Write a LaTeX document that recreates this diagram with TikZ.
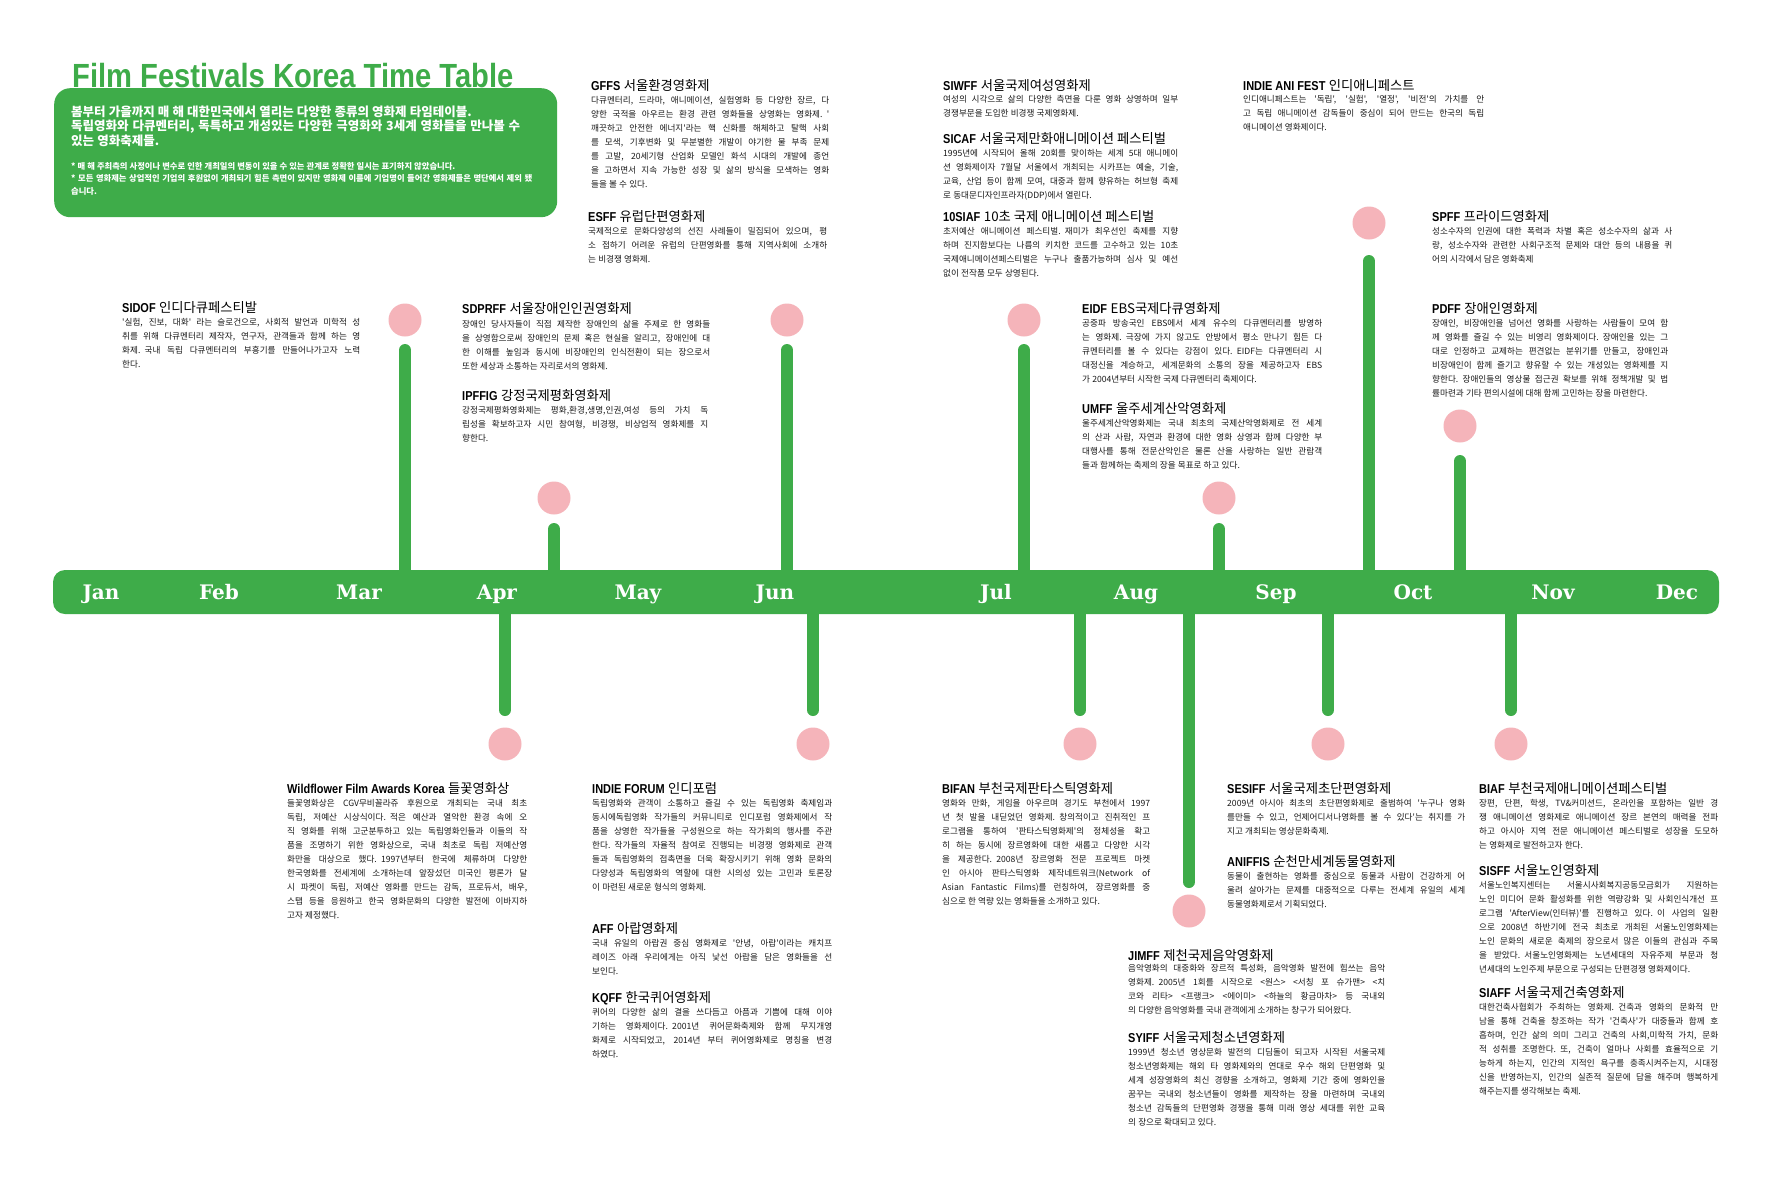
\documentclass[tikz,border=0pt]{standalone}
\usepackage{fontspec}
\newfontfamily\kr{Noto Sans CJK KR}
\newfontfamily\hdfont[FakeStretch=0.85]{Liberation Sans}
\newfontfamily\ttlfont[FakeStretch=0.87]{Liberation Sans}
\newfontfamily\mofont{DejaVu Serif}
\definecolor{fgreen}{RGB}{62,172,73}
\definecolor{fpink}{RGB}{245,180,186}
\definecolor{ftext}{RGB}{25,25,25}
\setlength{\parindent}{0pt}
\setlength{\parskip}{0pt}
\newcommand\jln[1]{\noindent\hbox to\hsize{\spaceskip=0.25em plus 1fil minus 0.05em\relax#1}\par}
\newcommand\lln[1]{\noindent\hbox to\hsize{\spaceskip=0.25em\relax#1\hfil}\par}
\newcommand\fhd[2]{{\hdfont\bfseries\fontsize{12.9}{14}\selectfont#1}\hspace{3.5pt}{\kr\fontsize{13.3}{14}\selectfont#2}}
\tikzset{
  headlbl/.style={anchor=base west, inner sep=0pt, text=black},
  bodytxt/.style={anchor=base west, inner sep=0pt, text=ftext, font=\kr\fontsize{8.6}{14}\selectfont},
  pinkdot/.style={circle, fill=fpink, minimum size=33pt, inner sep=0pt},
  stemline/.style={draw=fgreen, line width=12pt, line cap=round},
  monthlbl/.style={anchor=base, inner sep=0pt, text=white, font=\mofont\bfseries\fontsize{20}{20}\selectfont},
}
\begin{document}
\begin{tikzpicture}[x=1pt,y=-1pt]
\fill[white] (0,0) rectangle (1772,1181);
\useasboundingbox (0,0) rectangle (1772,1181);

% intro
\node[fill=fgreen, rounded corners=16pt, minimum width=503pt, minimum height=129pt, anchor=north west, inner sep=0pt] (intro) at (54,88) {};
\node[anchor=base west, inner sep=0pt, font=\ttlfont\bfseries\fontsize{33.5}{36}\selectfont, text=fgreen] (title) at (72,87) {Film Festivals Korea Time Table};
\node[anchor=base west, inner sep=0pt, text width=449pt, text=white, font=\kr\bfseries\fontsize{12.5}{14.5}\selectfont] (introtxt) at (71,116) {%
\lln{봄부터 가을까지 매 해 대한민국에서 열리는 다양한 종류의 영화제 타임테이블.}%
\jln{독립영화와 다큐멘터리, 독특하고 개성있는 다양한 극영화와 3세계 영화들을 만나볼 수}%
\lln{있는 영화축제들.}};
\node[anchor=base west, inner sep=0pt, text width=461pt, text=white, font=\kr\bfseries\fontsize{8.3}{12.5}\selectfont] (notes) at (71,169) {%
\lln{* 매 해 주최측의 사정이나 변수로 인한 개최일의 변동이 있을 수 있는 관계로 정확한 일시는 표기하지 않았습니다.}%
\jln{* 모든 영화제는 상업적인 기업의 후원없이 개최되기 힘든 측면이 있지만 영화제 이름에 기업명이 들어간 영화제들은 명단에서 제외 됐}%
\lln{습니다.}};

% timeline bar
\node[fill=fgreen, rounded corners=12pt, minimum width=1666pt, minimum height=44pt, inner sep=0pt] (bar) at (886,592) {};

% stems up
\coordinate (t-mar) at (405,350); \coordinate (t-apr) at (554,529);
\coordinate (t-jun) at (787,350); \coordinate (t-jul) at (1024,350);
\coordinate (t-aug) at (1219,529); \coordinate (t-oct) at (1369,261);
\coordinate (t-nov) at (1460,461);
\foreach \n in {mar,apr,jun,jul,aug,oct,nov} {\draw[stemline] (bar.center -| t-\n) -- (t-\n);}
\node[pinkdot] (c-mar) at (405,320) {};
\node[pinkdot] (c-apr) at (554,498) {};
\node[pinkdot] (c-jun) at (787,320) {};
\node[pinkdot] (c-jul) at (1024,320) {};
\node[pinkdot] (c-aug) at (1219,498) {};
\node[pinkdot] (c-oct) at (1369,223) {};
\node[pinkdot] (c-nov) at (1460,426) {};
% stems down
\coordinate (b-apr) at (505,710); \coordinate (b-jun) at (813,710);
\coordinate (b-jul) at (1080,710); \coordinate (b-aug) at (1189,882);
\coordinate (b-sep) at (1328,710); \coordinate (b-nov) at (1511,710);
\foreach \n in {apr,jun,jul,aug,sep,nov} {\draw[stemline] (bar.center -| b-\n) -- (b-\n);}
\node[pinkdot] (d-apr) at (505,744) {};
\node[pinkdot] (d-jun) at (813,744) {};
\node[pinkdot] (d-jul) at (1080,744) {};
\node[pinkdot] (d-aug) at (1189,911) {};
\node[pinkdot] (d-sep) at (1328,744) {};
\node[pinkdot] (d-nov) at (1511,744) {};

% months
\node[monthlbl] (jan) at (101,599) {Jan};
\node[monthlbl] (feb) at (219,599) {Feb};
\node[monthlbl] (mar) at (359,599) {Mar};
\node[monthlbl] (apr) at (497,599) {Apr};
\node[monthlbl] (may) at (638,599) {May};
\node[monthlbl] (jun) at (775,599) {Jun};
\node[monthlbl] (jul) at (996,599) {Jul};
\node[monthlbl] (aug) at (1136,599) {Aug};
\node[monthlbl] (sep) at (1276,599) {Sep};
\node[monthlbl] (oct) at (1413,599) {Oct};
\node[monthlbl] (nov) at (1553,599) {Nov};
\node[monthlbl] (dec) at (1677,599) {Dec};

% ---- upper blocks ----
\node[headlbl] (gffs-h) at (591,90) {\fhd{GFFS}{서울환경영화제}};
\node[bodytxt, text width=238pt] (gffs) at (591,103) {%
\jln{다큐멘터리, 드라마, 애니메이션, 실험영화 등 다양한 장르, 다}%
\jln{양한 국적을 아우르는 환경 관련 영화들을 상영화는 영화제. '}%
\jln{깨끗하고 안전한 에너지'라는 핵 신화를 해체하고 탈핵 사회}%
\jln{를 모색, 기후변화 및 무분별한 개발이 야기한 물 부족 문제}%
\jln{를 고발, 20세기형 산업화 모델인 화석 시대의 개발에 종언}%
\jln{을 고하면서 지속 가능한 성장 및 삶의 방식을 모색하는 영화}%
\lln{들을 볼 수 있다.}};

\node[headlbl] (esff-h) at (588,221) {\fhd{ESFF}{유럽단편영화제}};
\node[bodytxt, text width=239pt] (esff) at (588,234) {%
\jln{국제적으로 문화다양성의 선진 사례들이 밀집되어 있으며, 평}%
\jln{소 접하기 어려운 유럽의 단편영화를 통해 지역사회에 소개하}%
\lln{는 비경쟁 영화제.}};

\node[headlbl] (siwff-h) at (943,90) {\fhd{SIWFF}{서울국제여성영화제}};
\node[bodytxt, text width=235pt] (siwff) at (943,102) {%
\jln{여성의 시각으로 삶의 다양한 측면을 다룬 영화 상영하며 일부}%
\lln{경쟁부문을 도입한 비경쟁 국제영화제.}};

\node[headlbl] (sicaf-h) at (943,143) {\fhd{SICAF}{서울국제만화애니메이션 페스티벌}};
\node[bodytxt, text width=235pt] (sicaf) at (943,156) {%
\jln{1995년에 시작되어 올해 20회를 맞이하는 세계 5대 애니메이}%
\jln{션 영화제이자 7월달 서울에서 개최되는 시카프는 예술, 기술,}%
\jln{교육, 산업 등이 함께 모여, 대중과 함께 향유하는 허브형 축제}%
\lln{로 동대문디자인프라자(DDP)에서 열린다.}};

\node[headlbl] (siaf-h) at (943,221) {\fhd{10SIAF}{10초 국제 애니메이션 페스티벌}};
\node[bodytxt, text width=235pt] (siaf) at (943,234) {%
\jln{초저예산 애니메이션 페스티벌. 재미가 최우선인 축제를 지향}%
\jln{하며 진지함보다는 나름의 키치한 코드를 고수하고 있는 10초}%
\jln{국제애니메이션페스티벌은 누구나 출품가능하며 심사 및 예선}%
\lln{없이 전작품 모두 상영된다.}};

\node[headlbl] (iaf-h) at (1243,90) {\fhd{INDIE ANI FEST}{인디애니페스트}};
\node[bodytxt, text width=241pt] (iaf) at (1243,102) {%
\jln{인디애니페스트는 '독립', '실험', '열정', '비전'의 가치를 안}%
\jln{고 독립 애니메이션 감독들이 중심이 되어 만드는 한국의 독립}%
\lln{애니메이션 영화제이다.}};

\node[headlbl] (spff-h) at (1432,221) {\fhd{SPFF}{프라이드영화제}};
\node[bodytxt, text width=240pt] (spff) at (1432,234) {%
\jln{성소수자의 인권에 대한 폭력과 차별 혹은 성소수자의 삶과 사}%
\jln{랑, 성소수자와 관련한 사회구조적 문제와 대안 등의 내용을 퀴}%
\lln{어의 시각에서 담은 영화축제}};

\node[headlbl] (sidof-h) at (122,312) {\fhd{SIDOF}{인디다큐페스티발}};
\node[bodytxt, text width=238pt] (sidof) at (122,325) {%
\jln{'실험, 진보, 대화' 라는 슬로건으로, 사회적 발언과 미학적 성}%
\jln{취를 위해 다큐멘터리 제작자, 연구자, 관객들과 함께 하는 영}%
\jln{화제. 국내 독립 다큐멘터리의 부흥기를 만들어나가고자 노력}%
\lln{한다.}};

\node[headlbl] (sdprff-h) at (462,313) {\fhd{SDPRFF}{서울장애인인권영화제}};
\node[bodytxt, text width=248pt] (sdprff) at (462,327) {%
\jln{장애인 당사자들이 직접 제작한 장애인의 삶을 주제로 한 영화들}%
\jln{을 상영함으로써 장애인의 문제 혹은 현실을 알리고, 장애인에 대}%
\jln{한 이해를 높임과 동시에 비장애인의 인식전환이 되는 장으로서}%
\lln{또한 세상과 소통하는 자리로서의 영화제.}};

\node[headlbl] (ipffig-h) at (462,400) {\fhd{IPFFIG}{강정국제평화영화제}};
\node[bodytxt, text width=246pt] (ipffig) at (462,413) {%
\jln{강정국제평화영화제는 평화,환경,생명,인권,여성 등의 가치 독}%
\jln{립성을 확보하고자 시민 참여형, 비경쟁, 비상업적 영화제를 지}%
\lln{향한다.}};

\node[headlbl] (eidf-h) at (1082,313) {\fhd{EIDF}{EBS국제다큐영화제}};
\node[bodytxt, text width=240pt] (eidf) at (1082,326) {%
\jln{공중파 방송국인 EBS에서 세계 유수의 다큐멘터리를 방영하}%
\jln{는 영화제. 극장에 가지 않고도 안방에서 평소 만나기 힘든 다}%
\jln{큐멘터리를 볼 수 있다는 강점이 있다. EIDF는 다큐멘터리 시}%
\jln{대정신을 계승하고, 세계문화의 소통의 장을 제공하고자 EBS}%
\lln{가 2004년부터 시작한 국제 다큐멘터리 축제이다.}};

\node[headlbl] (umff-h) at (1082,413) {\fhd{UMFF}{울주세계산악영화제}};
\node[bodytxt, text width=240pt] (umff) at (1082,426) {%
\jln{울주세계산악영화제는 국내 최초의 국제산악영화제로 전 세계}%
\jln{의 산과 사람, 자연과 환경에 대한 영화 상영과 함께 다양한 부}%
\jln{대행사를 통해 전문산악인은 물론 산을 사랑하는 일반 관람객}%
\lln{들과 함께하는 축제의 장을 목표로 하고 있다.}};

\node[headlbl] (pdff-h) at (1432,313) {\fhd{PDFF}{장애인영화제}};
\node[bodytxt, text width=236pt] (pdff) at (1432,326) {%
\jln{장애인, 비장애인을 넘어선 영화를 사랑하는 사람들이 모여 함}%
\jln{께 영화를 즐길 수 있는 비영리 영화제이다. 장애인을 있는 그}%
\jln{대로 인정하고 교제하는 편견없는 분위기를 만들고, 장애인과}%
\jln{비장애인이 함께 즐기고 향유할 수 있는 개성있는 영화제를 지}%
\jln{향한다. 장애인들의 영상물 접근권 확보를 위해 정책개발 및 법}%
\lln{률마련과 기타 편의시설에 대해 함께 고민하는 장을 마련한다.}};

% ---- lower blocks ----
\node[headlbl] (wfak-h) at (287,793) {\fhd{Wildflower Film Awards Korea}{들꽃영화상}};
\node[bodytxt, text width=240pt] (wfak) at (287,806) {%
\jln{들꽃영화상은 CGV무비꼴라쥬 후원으로 개최되는 국내 최초}%
\jln{독립, 저예산 시상식이다. 적은 예산과 열악한 환경 속에 오}%
\jln{직 영화를 위해 고군분투하고 있는 독립영화인들과 이들의 작}%
\jln{품을 조명하기 위한 영화상으로, 국내 최초로 독립 저예산영}%
\jln{화만을 대상으로 했다. 1997년부터 한국에 체류하며 다양한}%
\jln{한국영화를 전세계에 소개하는데 앞장섰던 미국인 평론가 달}%
\jln{시 파켓이 독립, 저예산 영화를 만드는 감독, 프로듀서, 배우,}%
\jln{스탭 등을 응원하고 한국 영화문화의 다양한 발전에 이바지하}%
\lln{고자 제정했다.}};

\node[headlbl] (forum-h) at (592,793) {\fhd{INDIE FORUM}{인디포럼}};
\node[bodytxt, text width=240pt] (forum) at (592,806) {%
\jln{독립영화와 관객이 소통하고 즐길 수 있는 독립영화 축제임과}%
\jln{동시에독립영화 작가들의 커뮤니티로 인디포럼 영화제에서 작}%
\jln{품을 상영한 작가들을 구성원으로 하는 작가회의 행사를 주관}%
\jln{한다. 작가들의 자율적 참여로 진행되는 비경쟁 영화제로 관객}%
\jln{들과 독립영화의 접촉면을 더욱 확장시키기 위해 영화 문화의}%
\jln{다양성과 독립영화의 역할에 대한 시의성 있는 고민과 토론장}%
\lln{이 마련된 새로운 형식의 영화제.}};

\node[headlbl] (aff-h) at (592,933) {\fhd{AFF}{아랍영화제}};
\node[bodytxt, text width=240pt] (aff) at (592,946) {%
\jln{국내 유일의 아랍권 중심 영화제로 '안녕, 아랍'이라는 캐치프}%
\jln{레이즈 아래 우리에게는 아직 낯선 아랍을 담은 영화들을 선}%
\lln{보인다.}};

\node[headlbl] (kqff-h) at (592,1002) {\fhd{KQFF}{한국퀴어영화제}};
\node[bodytxt, text width=240pt] (kqff) at (592,1015) {%
\jln{퀴어의 다양한 삶의 결을 쓰다듬고 아픔과 기쁨에 대해 이야}%
\jln{기하는 영화제이다. 2001년 퀴어문화축제와 함께 무지개영}%
\jln{화제로 시작되었고, 2014년 부터 퀴어영화제로 명칭을 변경}%
\lln{하였다.}};

\node[headlbl] (bifan-h) at (942,793) {\fhd{BIFAN}{부천국제판타스틱영화제}};
\node[bodytxt, text width=208pt] (bifan) at (942,806) {%
\jln{영화와 만화, 게임을 아우르며 경기도 부천에서 1997}%
\jln{년 첫 발을 내딛었던 영화제. 창의적이고 진취적인 프}%
\jln{로그램을 통하여 '판타스틱영화제'의 정체성을 확고}%
\jln{히 하는 동시에 장르영화에 대한 새롭고 다양한 시각}%
\jln{을 제공한다. 2008년 장르영화 전문 프로젝트 마켓}%
\jln{인 아시아 판타스틱영화 제작네트워크(Network of}%
\jln{Asian Fantastic Films)를 런칭하여, 장르영화를 중}%
\lln{심으로 한 역량 있는 영화들을 소개하고 있다.}};

\node[headlbl] (jimff-h) at (1128,960) {\fhd{JIMFF}{제천국제음악영화제}};
\node[bodytxt, text width=257pt] (jimff) at (1128,971) {%
\jln{음악영화의 대중화와 장르적 특성화, 음악영화 발전에 힘쓰는 음악}%
\jln{영화제. 2005년 1회를 시작으로 <원스> <서칭 포 슈가맨> <치}%
\jln{코와 리타> <프랭크> <에이미> <하늘의 황금마차> 등 국내외}%
\lln{의 다양한 음악영화를 국내 관객에게 소개하는 창구가 되어왔다.}};

\node[headlbl] (syiff-h) at (1128,1042) {\fhd{SYIFF}{서울국제청소년영화제}};
\node[bodytxt, text width=257pt] (syiff) at (1128,1055) {%
\jln{1999년 청소년 영상문화 발전의 디딤돌이 되고자 시작된 서울국제}%
\jln{청소년영화제는 해외 타 영화제와의 연대로 우수 해외 단편영화 및}%
\jln{세계 성장영화의 최신 경향을 소개하고, 영화제 기간 중에 영화인을}%
\jln{꿈꾸는 국내외 청소년들이 영화를 제작하는 장을 마련하며 국내외}%
\jln{청소년 감독들의 단편영화 경쟁을 통해 미래 영상 세대를 위한 교육}%
\lln{의 장으로 확대되고 있다.}};

\node[headlbl] (sesiff-h) at (1227,793) {\fhd{SESIFF}{서울국제초단편영화제}};
\node[bodytxt, text width=238pt] (sesiff) at (1227,806) {%
\jln{2009년 아시아 최초의 초단편영화제로 출범하여 '누구나 영화}%
\jln{를만들 수 있고, 언제어디서나영화를 볼 수 있다'는 취지를 가}%
\lln{지고 개최되는 영상문화축제.}};

\node[headlbl] (aniffis-h) at (1227,866) {\fhd{ANIFFIS}{순천만세계동물영화제}};
\node[bodytxt, text width=238pt] (aniffis) at (1227,879) {%
\jln{동물이 출현하는 영화를 중심으로 동물과 사람이 건강하게 어}%
\jln{울려 살아가는 문제를 대중적으로 다루는 전세계 유일의 세계}%
\lln{동물영화제로서 기획되었다.}};

\node[headlbl] (biaf-h) at (1479,793) {\fhd{BIAF}{부천국제애니메이션페스티벌}};
\node[bodytxt, text width=239pt] (biaf) at (1479,806) {%
\jln{장편, 단편, 학생, TV\&커미션드, 온라인을 포함하는 일반 경}%
\jln{쟁 애니메이션 영화제로 애니메이션 장르 본연의 매력을 전파}%
\jln{하고 아시아 지역 전문 애니메이션 페스티벌로 성장을 도모하}%
\lln{는 영화제로 발전하고자 한다.}};

\node[headlbl] (sisff-h) at (1479,875) {\fhd{SISFF}{서울노인영화제}};
\node[bodytxt, text width=239pt] (sisff) at (1479,888) {%
\jln{서울노인복지센터는 서울시사회복지공동모금회가 지원하는}%
\jln{노인 미디어 문화 활성화를 위한 역량강화 및 사회인식개선 프}%
\jln{로그램 'AfterView(인터뷰)'를 진행하고 있다. 이 사업의 일환}%
\jln{으로 2008년 하반기에 전국 최초로 개최된 서울노인영화제는}%
\jln{노인 문화의 새로운 축제의 장으로서 많은 이들의 관심과 주목}%
\jln{을 받았다. 서울노인영화제는 노년세대의 자유주제 부문과 청}%
\lln{년세대의 노인주제 부문으로 구성되는 단편경쟁 영화제이다.}};

\node[headlbl] (siaff-h) at (1479,997) {\fhd{SIAFF}{서울국제건축영화제}};
\node[bodytxt, text width=239pt] (siaff) at (1479,1010) {%
\jln{대한건축사협회가 주최하는 영화제. 건축과 영화의 문화적 만}%
\jln{남을 통해 건축을 창조하는 작가 '건축사'가 대중들과 함께 호}%
\jln{흡하며, 인간 삶의 의미 그리고 건축의 사회,미학적 가치, 문화}%
\jln{적 성취를 조명한다. 또, 건축이 얼마나 사회를 효율적으로 기}%
\jln{능하게 하는지, 인간의 지적인 욕구를 충족시켜주는지, 시대정}%
\jln{신을 반영하는지, 인간의 실존적 질문에 답을 해주며 행복하게}%
\lln{해주는지를 생각해보는 축제.}};
\end{tikzpicture}
\end{document}
